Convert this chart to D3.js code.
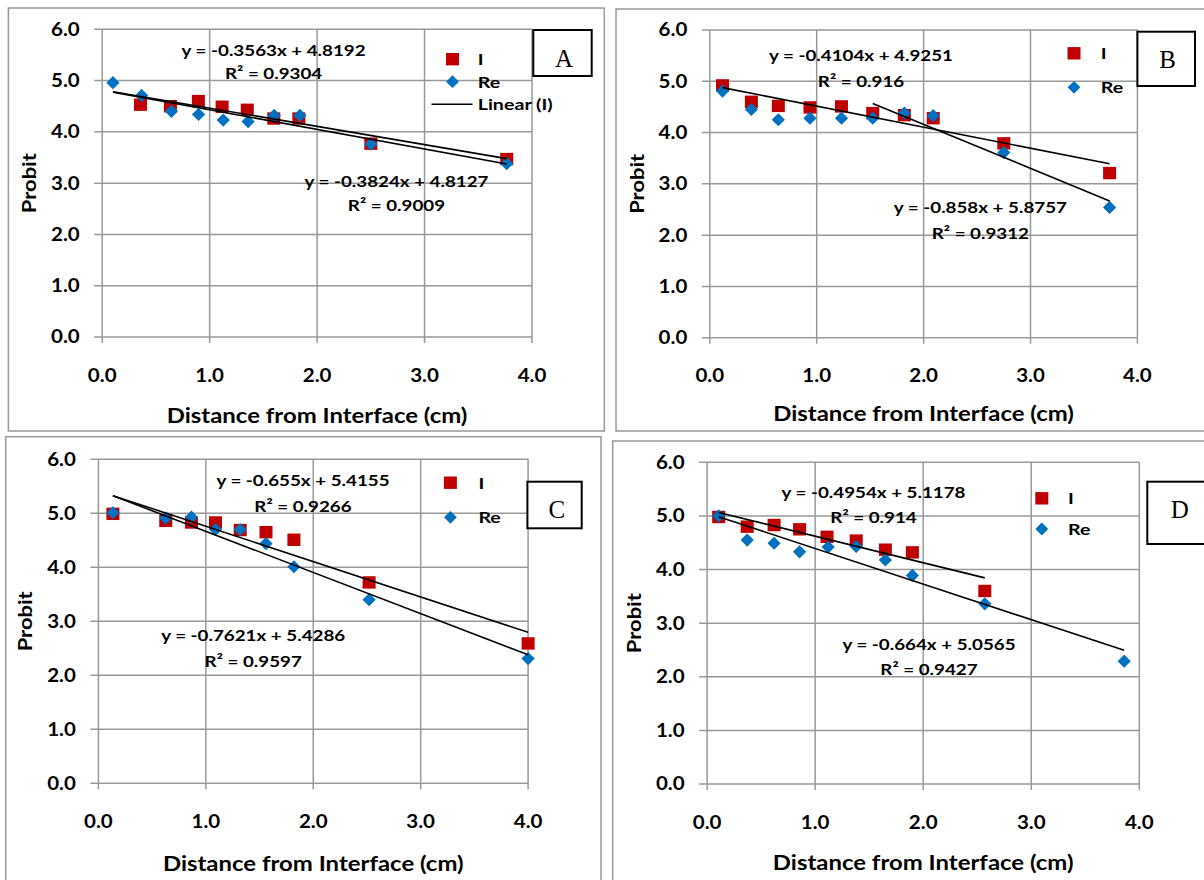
<!DOCTYPE html>
<html>
<head>
<meta charset="utf-8">
<title>Probit vs distance</title>
<script src="https://d3js.org/d3.v7.min.js"></script>
<style>
  body { margin: 0; background: #fff; }
  svg { display: block; }
</style>
</head>
<body>
<div id="chart"></div>
<script>
// ---- data ----
const panelNames = ["A", "B", "C", "D"];
const xTicks = [0, 1, 2, 3, 4];
const yTicks = [0, 1, 2, 3, 4, 5, 6];

// panel A
const xA_I  = [0.356, 0.635, 0.895, 1.116, 1.35, 1.597, 1.83, 2.50, 3.765];
const yA_I  = [4.53, 4.50, 4.60, 4.49, 4.43, 4.26, 4.26, 3.77, 3.47];
const xA_Re = [0.10, 0.367, 0.644, 0.897, 1.126, 1.358, 1.60, 1.84, 2.50, 3.765];
const yA_Re = [4.96, 4.71, 4.40, 4.34, 4.23, 4.20, 4.32, 4.32, 3.76, 3.38];
// panel B
const xB_I  = [0.119, 0.389, 0.641, 0.937, 1.232, 1.524, 1.82, 2.09, 2.75, 3.74];
const yB_I  = [4.92, 4.60, 4.52, 4.49, 4.51, 4.38, 4.34, 4.28, 3.79, 3.21];
const xB_Re = [0.119, 0.389, 0.641, 0.937, 1.232, 1.524, 1.82, 2.09, 2.75, 3.74];
const yB_Re = [4.81, 4.45, 4.25, 4.28, 4.28, 4.28, 4.38, 4.33, 3.61, 2.54];
// panel C
const xC_I  = [0.135, 0.627, 0.866, 1.09, 1.32, 1.56, 1.82, 2.52, 4.0];
const yC_I  = [4.99, 4.86, 4.83, 4.83, 4.69, 4.65, 4.51, 3.72, 2.59];
const xC_Re = [0.135, 0.627, 0.866, 1.09, 1.32, 1.56, 1.82, 2.52, 4.0];
const yC_Re = [5.01, 4.91, 4.93, 4.70, 4.70, 4.44, 4.01, 3.40, 2.31];
// panel D
const xD_I  = [0.107, 0.371, 0.62, 0.856, 1.11, 1.38, 1.65, 1.90, 2.57];
const yD_I  = [4.98, 4.80, 4.83, 4.75, 4.61, 4.54, 4.37, 4.32, 3.60];
const xD_Re = [0.107, 0.371, 0.62, 0.856, 1.12, 1.38, 1.65, 1.90, 2.57, 3.86];
const yD_Re = [5.00, 4.55, 4.49, 4.33, 4.42, 4.43, 4.18, 3.89, 3.36, 2.29];

// linear trendlines (Excel)
const slopeI  = [-0.3563, -0.4104, -0.655, -0.4954];
const interI  = [4.8192, 4.9251, 5.4155, 5.1178];
const r2I     = ["0.9304", "0.916", "0.9266", "0.914"];
const spanI   = [[0.1, 3.765], [0.119, 3.74], [0.135, 4.0], [0.107, 2.57]];
const slopeRe = [-0.3824, -0.858, -0.7621, -0.664];
const interRe = [4.8127, 5.8757, 5.4286, 5.0565];
const r2Re    = ["0.9009", "0.9312", "0.9597", "0.9427"];
const spanRe  = [[0.1, 3.765], [1.524, 3.74], [0.135, 4.0], [0.107, 3.86]];

const seriesI  = [[xA_I, yA_I], [xB_I, yB_I], [xC_I, yC_I], [xD_I, yD_I]];
const seriesRe = [[xA_Re, yA_Re], [xB_Re, yB_Re], [xC_Re, yC_Re], [xD_Re, yD_Re]];

// ---- layout (pixels) ----
const layout = [
  { border: [8.4, 8, 604.3, 431], plot: [102.2, 29.3, 532, 337], box: [533.3, 30, 591.7, 76], letter: [564, 66.7],
    leg: { x: 452.5, tx: 477.7, yI: 59.2, yRe: 81.7, yLin: 104.3 }, eqI: [273.6, 50, 72.7], eqRe: [396.5, 181.5, 205], titleY: 423 },
  { border: [616, 9, 1212, 431], plot: [709.8, 30, 1137.4, 337.7], box: [1137.4, 31.7, 1195, 86], letter: [1167.6, 68.3],
    leg: { x: 1074, tx: 1100.8, yI: 53.3, yRe: 87.3 }, eqI: [861, 55, 81], eqRe: [980.4, 207.3, 233.3], titleY: 421 },
  { border: [5.7, 436.7, 601, 892], plot: [98.4, 459.3, 528.1, 783.3], box: [527.4, 481.7, 581.7, 528.3], letter: [556.8, 518.3],
    leg: { x: 450.4, tx: 478.4, yI: 482.7, yRe: 517.3 }, eqI: [303, 480, 506], eqRe: [253.2, 635, 660.7], titleY: 871 },
  { border: [612.7, 441, 1212, 892], plot: [707.1, 462.3, 1139.3, 784], box: [1147.3, 481.7, 1212, 544], letter: [1179.7, 518.3],
    leg: { x: 1041.8, tx: 1068, yI: 498.3, yRe: 529 }, eqI: [873.5, 492.3, 517.3], eqRe: [929, 644, 668.7], titleY: 870 }
];

const FONT = "Lato, 'Open Sans', sans-serif";
const RED = "#C00000", BLUE = "#0070C0", GRID = "#999";

const svg = d3.select("#chart").append("svg")
  .attr("width", 1204).attr("height", 880)
  .style("font-family", FONT).style("font-weight", "bold");

// text in the reference is horizontally stretched; measure and scale to match
function natural(str, size) {
  const t = svg.append("text").attr("font-size", size).text(str);
  const w = t.node().getComputedTextLength();
  t.remove();
  return w;
}
const kTick = 28.7 / natural("6.0", 18);
const kEq = 184 / natural("y = -0.3563x + 4.8192", 16);
const kTitle = 300.7 / natural("Distance from Interface (cm)", 21.5);
const kProbit = 60 / natural("Probit", 19.5);
const kLeg = 75 / natural("Linear (I)", 16);

function fit(sel, k) {
  sel.each(function () {
    const w = this.getComputedTextLength();
    d3.select(this).attr("textLength", w * k).attr("lengthAdjust", "spacingAndGlyphs");
  });
}

const fmt = d3.format(".1f");
const diamond = r => `M0,${-r}L${r},0L0,${r}L${-r},0Z`;

layout.forEach((L, i) => {
  const g = svg.append("g");
  const [bx0, by0, bx1, by1] = L.border;
  g.append("rect").attr("x", bx0).attr("y", by0).attr("width", bx1 - bx0).attr("height", by1 - by0)
    .attr("fill", "#fff").attr("stroke", "#999").attr("stroke-width", 1.5);

  const [px0, py0, px1, py1] = L.plot;
  const x = d3.scaleLinear().domain([0, 4]).range([px0, px1]);
  const y = d3.scaleLinear().domain([0, 6]).range([py1, py0]);

  // gridlines + ticks
  g.append("g").selectAll("line").data(yTicks).join("line")
    .attr("x1", px0 - 8).attr("x2", px1).attr("y1", d => y(d)).attr("y2", d => y(d))
    .attr("stroke", GRID).attr("stroke-width", 1.5);
  g.append("g").selectAll("line").data(xTicks).join("line")
    .attr("x1", d => x(d)).attr("x2", d => x(d)).attr("y1", py0).attr("y2", py1 + 6)
    .attr("stroke", GRID).attr("stroke-width", 1.5);

  // tick labels
  const yl = g.append("g").selectAll("text").data(yTicks).join("text")
    .attr("x", px0 - 22.5).attr("y", d => y(d) + 6.4).attr("text-anchor", "end")
    .attr("font-size", 18).text(fmt);
  fit(yl, kTick);
  const xl = g.append("g").selectAll("text").data(xTicks).join("text")
    .attr("x", d => x(d)).attr("y", py1 + 44.5).attr("text-anchor", "middle")
    .attr("font-size", 18).text(fmt);
  fit(xl, kTick);

  // axis titles
  const tt = g.append("text").attr("x", (px0 + px1) / 2).attr("y", L.titleY)
    .attr("text-anchor", "middle").attr("font-size", 21.5).text("Distance from Interface (cm)");
  fit(tt, kTitle);
  const pt = g.append("text")
    .attr("transform", `translate(${px0 - 66},${(py0 + py1) / 2}) rotate(-90)`)
    .attr("text-anchor", "middle").attr("font-size", 19.5).text("Probit");
  fit(pt, kProbit);

  // markers: I (squares) then Re (diamonds)
  const [xi, yi] = seriesI[i];
  g.append("g").selectAll("rect").data(d3.range(xi.length)).join("rect")
    .attr("x", k => x(xi[k]) - 6.5).attr("y", k => y(yi[k]) - 6.2)
    .attr("width", 13).attr("height", 12.4).attr("fill", RED);
  const [xr, yr] = seriesRe[i];
  g.append("g").selectAll("path").data(d3.range(xr.length)).join("path")
    .attr("transform", k => `translate(${x(xr[k])},${y(yr[k])})`)
    .attr("d", diamond(6.6)).attr("fill", BLUE);

  // trendlines
  const trend = [[slopeI[i], interI[i], spanI[i]], [slopeRe[i], interRe[i], spanRe[i]]];
  g.append("g").selectAll("line").data(trend).join("line")
    .attr("x1", d => x(d[2][0])).attr("y1", d => y(d[0] * d[2][0] + d[1]))
    .attr("x2", d => x(d[2][1])).attr("y2", d => y(d[0] * d[2][1] + d[1]))
    .attr("stroke", "#000").attr("stroke-width", 1.6);

  // equation labels
  const eqs = [
    [L.eqI, `y = ${slopeI[i]}x + ${interI[i]}`, `R² = ${r2I[i]}`],
    [L.eqRe, `y = ${slopeRe[i]}x + ${interRe[i]}`, `R² = ${r2Re[i]}`]
  ];
  eqs.forEach(([p, a, b]) => {
    const t1 = g.append("text").attr("x", p[0]).attr("y", p[1] + 5.8).attr("text-anchor", "middle")
      .attr("font-size", 16).text(a);
    const t2 = g.append("text").attr("x", p[0]).attr("y", p[2] + 5.8).attr("text-anchor", "middle")
      .attr("font-size", 16).text(b);
    fit(t1, kEq); fit(t2, kEq);
  });

  // legend
  const lg = L.leg;
  g.append("rect").attr("x", lg.x - 6.5).attr("y", lg.yI - 6.2).attr("width", 13).attr("height", 12.4).attr("fill", RED);
  g.append("path").attr("transform", `translate(${lg.x},${lg.yRe})`).attr("d", diamond(6.4)).attr("fill", BLUE);
  const legText = [["I", lg.yI], ["Re", lg.yRe]];
  if (lg.yLin !== undefined) {
    g.append("line").attr("x1", lg.x - 21).attr("x2", lg.x + 20).attr("y1", lg.yLin).attr("y2", lg.yLin)
      .attr("stroke", "#000").attr("stroke-width", 1.6);
    legText.push(["Linear (I)", lg.yLin]);
  }
  const lt = g.append("g").selectAll("text").data(legText).join("text")
    .attr("x", lg.tx).attr("y", d => d[1] + 5.8).attr("font-size", 16).text(d => d[0]);
  fit(lt, kLeg);

  // panel letter box
  const [cx0, cy0, cx1, cy1] = L.box;
  g.append("rect").attr("x", cx0).attr("y", cy0).attr("width", cx1 - cx0).attr("height", cy1 - cy0)
    .attr("fill", "#fff").attr("stroke", "#000").attr("stroke-width", 2);
  g.append("text").attr("x", L.letter[0]).attr("y", L.letter[1]).attr("text-anchor", "middle")
    .attr("font-family", "'Liberation Serif', 'Times New Roman', serif").attr("font-weight", "normal")
    .attr("font-size", 25).text(panelNames[i]);
});
</script>
</body>
</html>
